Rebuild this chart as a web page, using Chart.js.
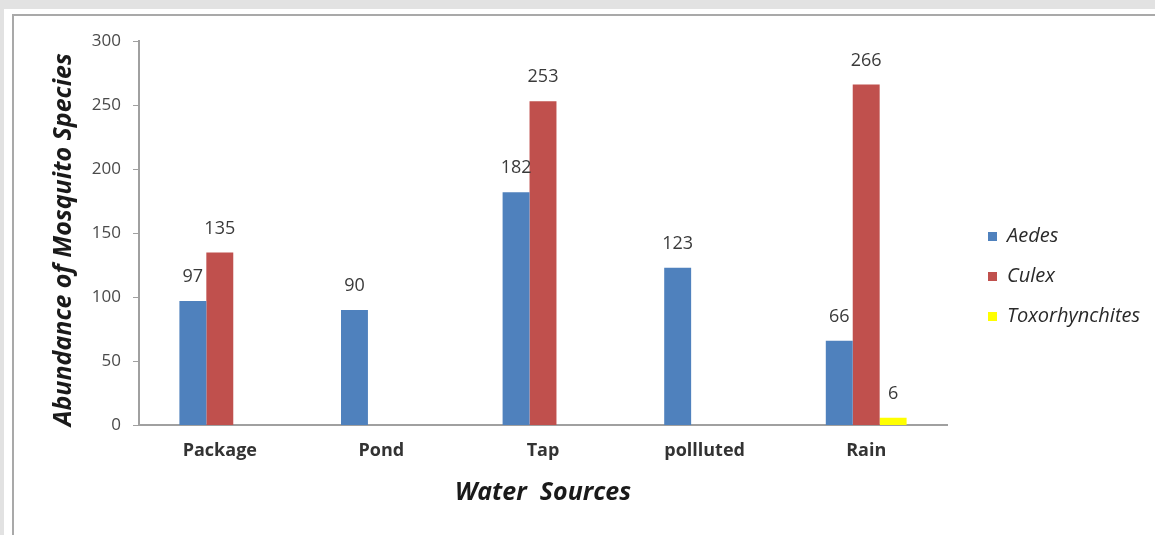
<!DOCTYPE html>
<html>
<head>
<meta charset="utf-8">
<script src="https://cdn.jsdelivr.net/npm/chart.js@4"></script>
<style>
  html, body { margin: 0; padding: 0; background: #e2e2e2; overflow: hidden; }
  #sheet { position: absolute; left: 4px; top: 9px; width: 1160px; height: 540px; background: #fff; }
  #box { position: absolute; left: 12px; top: 14px; width: 1160px; height: 540px; border-left: 2px solid #a9a9a9; border-top: 2px solid #a9a9a9; }
  #myChart { position: absolute; left: 0; top: 0; }
</style>
</head>
<body>
<div id="sheet"></div>
<div id="box"></div>
<canvas id="myChart" width="1155" height="535"></canvas>
<script>
// categorias (fuentes de agua)
const sources = ['Package', 'Pond', 'Tap', 'pollluted', 'Rain']
// abundancia por especie
const aedes = [97, 90, 182, 123, 66]
const culex = [135, null, 253, null, 266]
const toxo = [null, null, null, null, 6]
const yTicks = [0, 50, 100, 150, 200, 250, 300]

const fontName = '"Open Sans", Lato, sans-serif'

// etiquetas encima de las barras
const barLabels = {
  id: 'barLabels',
  afterDatasetsDraw(chart) {
    const ctx = chart.ctx
    ctx.save()
    ctx.font = '18px ' + fontName
    ctx.fillStyle = '#3a3a3a'
    ctx.textAlign = 'center'
    ctx.textBaseline = 'middle'
    chart.data.datasets.forEach((ds, i) => {
      const meta = chart.getDatasetMeta(i)
      meta.data.forEach((bar, j) => {
        const v = ds.data[j]
        if (v === null) return
        ctx.fillText(String(v), bar.x, bar.y - 24)
      })
    })
    ctx.restore()
  }
}

// leyenda a la derecha, ancho fijo
const legendPlace = {
  id: 'legendPlace',
  beforeLayout(chart) {
    const lg = chart.legend
    if (lg && !lg._fixed) {
      const fit = lg.fit.bind(lg)
      lg.fit = function () { fit(); this.width = 208 }
      lg._fixed = true
    }
  },
  afterLayout(chart) {
    const lg = chart.legend
    const dx = 968 - lg.left
    lg.left += dx
    lg.right += dx
    lg.top += 2
    lg.bottom += 2
  }
}

new Chart('myChart', {
  type: 'bar',
  data: {
    labels: sources,
    datasets: [
      { label: 'Aedes', data: aedes, backgroundColor: '#4f81bd' },
      { label: 'Culex', data: culex, backgroundColor: '#c0504d' },
      { label: 'Toxorhynchites', data: toxo, backgroundColor: '#ffff00' }
    ]
  },
  options: {
    responsive: false,
    animation: false,
    devicePixelRatio: 1,
    layout: { padding: { left: 40, top: 41, right: 0, bottom: 27 } },
    datasets: { bar: { categoryPercentage: 0.5, barPercentage: 1, skipNull: false } },
    scales: {
      x: {
        grid: { display: false, drawTicks: false },
        border: { color: '#a0a0a0', width: 2 },
        ticks: { color: '#333', font: { family: fontName, size: 18, weight: 'bold' }, padding: 15 },
        title: { display: true, text: 'Water  Sources', color: '#1a1a1a',
          font: { family: fontName, size: 25, weight: 'bold', style: 'italic' }, padding: { top: 1, bottom: 0 } }
      },
      y: {
        min: 0, max: 300,
        afterBuildTicks(scale) { scale.ticks = yTicks.map(v => ({ value: v })) },
        afterFit(scale) { scale.width = 99 },
        grid: { drawOnChartArea: false, color: '#a0a0a0', tickLength: 6 },
        border: { color: '#a0a0a0', width: 2 },
        ticks: { color: '#4a4a4a', font: { family: fontName, size: 17 }, padding: 12 },
        title: { display: true, text: 'Abundance of Mosquito Species  ', color: '#1a1a1a',
          font: { family: fontName, size: 25, weight: 'bold', style: 'italic' }, padding: { top: 9, bottom: 0 } }
      }
    },
    plugins: {
      tooltip: { enabled: false },
      legend: {
        position: 'right',
        labels: {
          boxWidth: 9, boxHeight: 9, padding: 20, color: '#2a2a2a',
          font: { family: fontName, size: 20, style: 'italic' }
        }
      }
    }
  },
  plugins: [barLabels, legendPlace]
})
</script>
</body>
</html>
